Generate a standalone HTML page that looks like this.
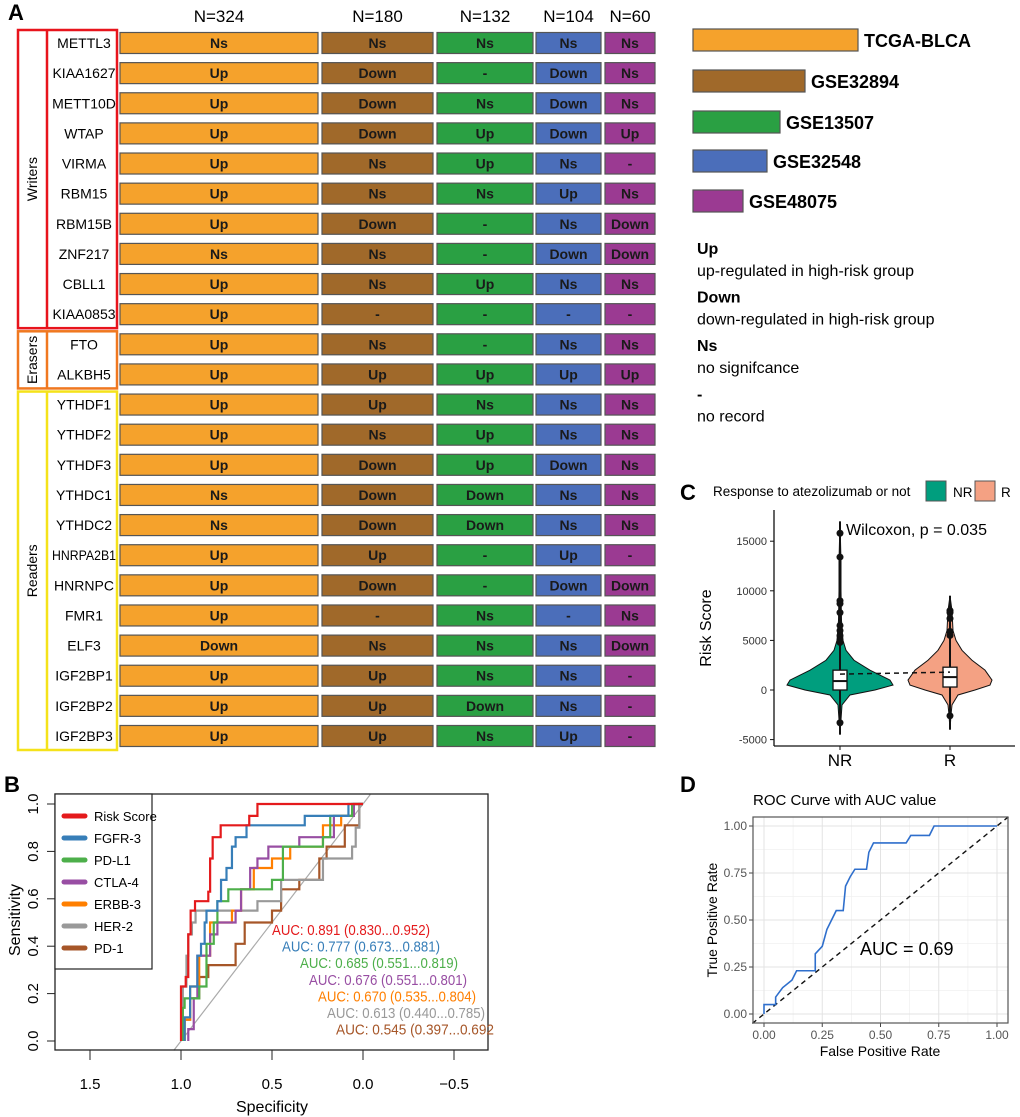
<!DOCTYPE html>
<html><head><meta charset="utf-8"><style>
body{margin:0;background:#fff}
svg{display:block;font-family:"Liberation Sans",sans-serif}
</style></head><body>
<svg id="fig" width="1020" height="1117" viewBox="0 0 1020 1117" xmlns="http://www.w3.org/2000/svg">
<text x="8" y="20" font-size="22" font-weight="bold">A</text>
<text x="4" y="792" font-size="22" font-weight="bold">B</text>
<text x="680" y="500" font-size="22" font-weight="bold">C</text>
<text x="680" y="792" font-size="22" font-weight="bold">D</text>
<g id="pa"></g>
<g id="pb"></g>
<g id="pc"></g>
<g id="pd"></g>
</svg>
<script>
const NS="http://www.w3.org/2000/svg";
function mk(parent,tag,attrs,txt){const e=document.createElementNS(NS,tag);for(const k in attrs)e.setAttribute(k,attrs[k]);if(txt!==undefined)e.textContent=txt;parent.appendChild(e);return e;}

// ---------- Panel A data ----------
const genes=["METTL3","KIAA1627","METT10D","WTAP","VIRMA","RBM15","RBM15B","ZNF217","CBLL1","KIAA0853","FTO","ALKBH5","YTHDF1","YTHDF2","YTHDF3","YTHDC1","YTHDC2","HNRPA2B1","HNRNPC","FMR1","ELF3","IGF2BP1","IGF2BP2","IGF2BP3"];
const datasets=["TCGA-BLCA","GSE32894","GSE13507","GSE32548","GSE48075"];
const sampleN=["N=324","N=180","N=132","N=104","N=60"];
const statusTCGA=["Ns","Up","Up","Up","Up","Up","Up","Ns","Up","Up","Up","Up","Up","Up","Up","Ns","Ns","Up","Up","Up","Down","Up","Up","Up"];
const status32894=["Ns","Down","Down","Down","Ns","Ns","Down","Ns","Ns","-","Ns","Up","Up","Ns","Down","Down","Down","Up","Down","-","Ns","Up","Up","Up"];
const status13507=["Ns","-","Ns","Up","Up","Ns","-","-","Up","-","-","Up","Ns","Up","Up","Down","Down","-","-","Ns","Ns","Ns","Down","Ns"];
const status32548=["Ns","Down","Down","Down","Ns","Up","Ns","Down","Ns","-","Ns","Up","Ns","Ns","Down","Ns","Ns","Up","Down","-","Ns","Ns","Ns","Up"];
const status48075=["Ns","Ns","Ns","Up","-","Ns","Down","Down","Ns","-","Ns","Up","Ns","Ns","Ns","Ns","Ns","-","Down","Ns","Down","-","-","-"];
const groups=["Writers","Erasers","Readers"];
const groupStart=[0,10,12];
const groupEnd=[9,11,23];

const pa=document.getElementById('pa');
const colX=[120,322,437,536,605], colW=[198,111,96,65,50];
const colors=["#F5A22C","#A0692A","#2AA043","#4B6EBA","#9B3A92"];
const allStatus=[statusTCGA,status32894,status13507,status32548,status48075];
const rowY=i=>43+30.13*i;
sampleN.forEach((n,j)=>{const t=mk(pa,'text',{x:colX[j]+colW[j]/2,y:22,'font-size':17,'text-anchor':'middle'},n);

});
genes.forEach((g,i)=>{
  const t=mk(pa,'text',{x:84,y:rowY(i)+5,'font-size':14,'text-anchor':'middle'},g);
  
  
  if(t.getComputedTextLength()>64){t.setAttribute('textLength',64);t.setAttribute('lengthAdjust','spacingAndGlyphs');}
  allStatus.forEach((arr,j)=>{
    const r=mk(pa,'rect',{x:colX[j],y:rowY(i)-10.5,width:colW[j],height:21,fill:colors[j],stroke:'#555','stroke-width':1.2});
    
    
    const s=mk(pa,'text',{x:colX[j]+colW[j]/2,y:rowY(i)+5,'font-size':14,'font-weight':'bold','text-anchor':'middle',fill:'#1a1a1a'},arr[i]);
    
    
  });
});
const gcol=["#E8141C","#F07820","#F5E21A"];
groups.forEach((g,k)=>{
  const y0=rowY(groupStart[k])-13, y1=rowY(groupEnd[k])+14;
  const r=mk(pa,'rect',{x:18,y:y0,width:99,height:y1-y0,fill:'none',stroke:gcol[k],'stroke-width':2.5});
  
  
  mk(pa,'line',{x1:47,x2:47,y1:y0,y2:y1,stroke:gcol[k],'stroke-width':2.5});
  const cy=(y0+y1)/2;
  const t=mk(pa,'text',{x:37,y:cy,'font-size':14,'text-anchor':'middle',transform:`rotate(-90 37 ${cy})`},g);
  
  
});
const legW=[165,112,87,74,50], legY=[29,70,111,150,190];
datasets.forEach((d,j)=>{
  const r=mk(pa,'rect',{x:693,y:legY[j],width:legW[j],height:22,fill:colors[j],stroke:'#555','stroke-width':1.2});
  
  
  const t=mk(pa,'text',{x:693+legW[j]+6,y:legY[j]+18,'font-size':18,'font-weight':'bold'},d);
  
  
});
const keyTerms=["Up","Down","Ns","-"];
const keyDesc=["up-regulated in high-risk group","down-regulated in high-risk group","no signifcance","no record"];
keyTerms.forEach((k,i)=>{
  const t=mk(pa,'text',{x:697,y:254+i*48.5,'font-size':16,'font-weight':'bold'},k);
  
  
  const d=mk(pa,'text',{x:697,y:276+i*48.5,'font-size':16},keyDesc[i]);
  
  
});

// ---------- Panel B data ----------
const rocNames=["Risk Score","FGFR-3","PD-L1","CTLA-4","ERBB-3","HER-2","PD-1"];
const rocColors=["#E41A1C","#377EB8","#4DAF4A","#984EA3","#FF7F00","#999999","#A65628"];
const specRisk=[1.0,0.974,0.96,0.947,0.923,0.85,0.84,0.826,0.782,0.625,0.58];
const sensRisk=[0.23,0.27,0.45,0.55,0.59,0.63,0.77,0.86,0.91,0.95,1.0];
const specFGFR=[0.98,0.95,0.91,0.89,0.87,0.86,0.8,0.78,0.75,0.72,0.7,0.64,0.32,0.08];
const sensFGFR=[0.1,0.23,0.36,0.41,0.5,0.55,0.59,0.68,0.73,0.82,0.86,0.91,0.95,1.0];
const specPDL1=[0.99,0.98,0.9,0.86,0.82,0.8,0.74,0.5,0.44,0.22,0.18,0.06];
const sensPDL1=[0.14,0.18,0.23,0.41,0.5,0.59,0.64,0.68,0.82,0.86,0.95,1.0];
const specCTLA=[0.96,0.93,0.91,0.84,0.8,0.7,0.67,0.62,0.58,0.52,0.35,0.16,0.05];
const sensCTLA=[0.05,0.18,0.36,0.45,0.5,0.55,0.64,0.73,0.77,0.82,0.86,0.95,1.0];
const specERBB=[0.98,0.95,0.9,0.84,0.72,0.67,0.6,0.5,0.4,0.22,0.12,0.05];
const sensERBB=[0.09,0.23,0.36,0.5,0.55,0.64,0.73,0.77,0.82,0.91,0.95,1.0];
const specHER2=[0.99,0.97,0.96,0.94,0.92,0.58,0.45,0.22,0.06,0.04,0.02];
const sensHER2=[0.23,0.36,0.45,0.5,0.55,0.59,0.68,0.77,0.82,0.9,1.0];
const specPD1=[0.98,0.95,0.9,0.85,0.7,0.65,0.5,0.45,0.35,0.24,0.2,0.1,0.02];
const sensPD1=[0.09,0.18,0.27,0.32,0.41,0.5,0.55,0.64,0.68,0.77,0.82,0.91,1.0];
const aucLabels=["AUC: 0.891 (0.830...0.952)","AUC: 0.777 (0.673...0.881)","AUC: 0.685 (0.551...0.819)","AUC: 0.676 (0.551...0.801)","AUC: 0.670 (0.535...0.804)","AUC: 0.613 (0.440...0.785)","AUC: 0.545 (0.397...0.692"];
const bXTicks=[1.5,1.0,0.5,0.0,-0.5];
const bYTicks=[0,0.2,0.4,0.6,0.8,1.0];

const pb=document.getElementById('pb');
const bx=s=>363-182*s, by=v=>1041-237*v;
mk(pb,'line',{x1:bx(1.04),y1:by(-0.04),x2:bx(-0.04),y2:by(1.04),stroke:'#aaa','stroke-width':1.2});
const specs=[specRisk,specFGFR,specPDL1,specCTLA,specERBB,specHER2,specPD1];
const senss=[sensRisk,sensFGFR,sensPDL1,sensCTLA,sensERBB,sensHER2,sensPD1];
for(let k=6;k>=0;k--){
  const sp=specs[k],se=senss[k];
  let d=`M${bx(sp[0])},${by(0)}`;
  for(let i=0;i<sp.length;i++){ if(i>0) d+=` H${bx(sp[i])}`; d+=` V${by(se[i])}`; }
  d+=` H${bx(0)}`;
  const p=mk(pb,'path',{d:d,fill:'none',stroke:rocColors[k],'stroke-width':2.2});
  
  
}
const bframe=mk(pb,'rect',{x:55,y:794,width:433,height:256,fill:'none',stroke:'#222','stroke-width':1.3});


bXTicks.forEach(t=>{mk(pb,'line',{x1:bx(t),x2:bx(t),y1:1050,y2:1060,stroke:'#222'});
  const l=mk(pb,'text',{x:bx(t),y:1089,'font-size':15,'text-anchor':'middle'},t.toFixed(1).replace('-','\u2212'));
  
  });
bYTicks.forEach(t=>{mk(pb,'line',{x1:47,x2:55,y1:by(t),y2:by(t),stroke:'#222'});
  const l=mk(pb,'text',{x:38,y:by(t),'font-size':15,'text-anchor':'middle',transform:`rotate(-90 38 ${by(t)})`},t.toFixed(1));
  
  });
const bxt=mk(pb,'text',{x:272,y:1112,'font-size':16,'text-anchor':'middle'},'Specificity');


const byt=mk(pb,'text',{x:20,y:920,'font-size':16,'text-anchor':'middle',transform:'rotate(-90 20 920)'},'Sensitivity');


const lb=mk(pb,'rect',{x:55,y:794,width:97,height:175,fill:'#fff',stroke:'#222','stroke-width':1.2});


rocNames.forEach((n,k)=>{
  const y=816+k*22;
  mk(pb,'line',{x1:64,x2:85,y1:y,y2:y,stroke:rocColors[k],'stroke-width':5,'stroke-linecap':'round'});
  const t=mk(pb,'text',{x:94,y:y+5,'font-size':13},n);
  
  
});
const aucX=[272,282,300,309,318,327,336];
aucLabels.forEach((a,k)=>{
  const t=mk(pb,'text',{x:aucX[k],y:935+k*16.6,'font-size':15,fill:rocColors[k],textLength:158,lengthAdjust:'spacingAndGlyphs'},a);
  
  
});

// ---------- Panel C data ----------
const groupsC=["NR","R"];
const nrVals=[-4500,-3000,-1500,-500,0,500,1000,2000,3000,4000,5000,7000,10000,13000,17000];
const nrDens=[0,1,2,10,35,53,50,30,14,6,3,1.5,1,1,0];
const rVals=[-4000,-2500,-1500,-500,0,500,1000,2000,3000,4000,5000,6000,8000,9500];
const rDens=[0,1,2,8,25,40,42,35,22,12,6,3,2,0];
const boxQ1=[0,300];
const boxMed=[900,1300];
const boxQ3=[2000,2300];
const groupMean=[1600,1800];
const nrOutliers=[15800,13400,9000,8700,7800,6500,6000,5500,5000,4800,-3300];
const rOutliers=[8000,7800,7200,5900,5500,-2600];
const cYTicks=[-5000,0,5000,10000,15000];

const pc=document.getElementById('pc');
const cy=v=>690-v*49.6/5000;
const cx=[840,950];
const ct=mk(pc,'text',{x:713,y:496,'font-size':13.5},'Response to atezolizumab or not');


const cfill=["#009E7E","#F4A183"];
[[926,953],[975,1001]].forEach((p,k)=>{
  const r=mk(pc,'rect',{x:p[0],y:481,width:20,height:20,fill:cfill[k],stroke:'#555'});
  
  
  const t=mk(pc,'text',{x:p[1],y:497,'font-size':13.5},groupsC[k]);
  
  
});
function violin(vals,dens,c,fill,name){
  let right=vals.map((v,i)=>`${c+dens[i]},${cy(v)}`);
  let left=vals.map((v,i)=>`${c-dens[i]},${cy(v)}`).reverse();
  const p=mk(pc,'polygon',{points:right.concat(left).join(' '),fill:fill,stroke:'#111','stroke-width':1});
  
  
  mk(pc,'line',{x1:c,x2:c,y1:cy(vals[0]),y2:cy(vals[vals.length-1]),stroke:'#111','stroke-width':2});
}
violin(nrVals,nrDens,cx[0],cfill[0],'violin-nr');
violin(rVals,rDens,cx[1],cfill[1],'violin-r');
[nrOutliers,rOutliers].forEach((arr,k)=>arr.forEach(v=>{
  const c=mk(pc,'circle',{cx:cx[k],cy:cy(v),r:3.5,fill:'#111'});
  
  
}));
groupsC.forEach((g,k)=>{
  const r=mk(pc,'rect',{x:cx[k]-7,y:cy(boxQ3[k]),width:14,height:cy(boxQ1[k])-cy(boxQ3[k]),fill:'#fff',stroke:'#111','stroke-width':1.3});
  
  
  mk(pc,'line',{x1:cx[k]-7,x2:cx[k]+7,y1:cy(boxMed[k]),y2:cy(boxMed[k]),stroke:'#111','stroke-width':2});
});
const ml=mk(pc,'line',{x1:cx[0],x2:cx[1],y1:cy(groupMean[0]),y2:cy(groupMean[1]),stroke:'#111','stroke-width':1.5,'stroke-dasharray':'5,4'});


mk(pc,'line',{x1:774,x2:774,y1:510,y2:746,stroke:'#111','stroke-width':1.3});
mk(pc,'line',{x1:774,x2:1015,y1:746,y2:746,stroke:'#111','stroke-width':1.3});
cYTicks.forEach(t=>{mk(pc,'line',{x1:770,x2:774,y1:cy(t),y2:cy(t),stroke:'#111'});
  const l=mk(pc,'text',{x:767,y:cy(t)+4,'font-size':11,'text-anchor':'end',fill:'#333'},t);
  
  });
groupsC.forEach((g,k)=>{mk(pc,'line',{x1:cx[k],x2:cx[k],y1:746,y2:750,stroke:'#111'});
  const l=mk(pc,'text',{x:cx[k],y:766,'font-size':17,'text-anchor':'middle'},g);
  
  });
const cyt=mk(pc,'text',{x:711,y:628,'font-size':16,'text-anchor':'middle',transform:'rotate(-90 711 628)'},'Risk Score');


const wt=mk(pc,'text',{x:846,y:535,'font-size':16},'Wilcoxon, p = 0.035');



// ---------- Panel D data ----------
const fpr=[0,0,0.05,0.05,0.08,0.12,0.14,0.22,0.22,0.25,0.27,0.29,0.31,0.34,0.35,0.37,0.39,0.44,0.45,0.47,0.61,0.63,0.71,0.73,1.0];
const tpr=[0,0.05,0.05,0.09,0.14,0.18,0.23,0.23,0.32,0.36,0.45,0.5,0.55,0.55,0.68,0.73,0.77,0.77,0.86,0.91,0.91,0.95,0.95,1.0,1.0];
const dTicks=[0,0.25,0.5,0.75,1.0];
const pd=document.getElementById('pd');
const dx=v=>764+233*v, dy=v=>1014-188*v;
const dbg=mk(pd,'rect',{x:753,y:817,width:255,height:206,fill:'#fff'});


[0.125,0.375,0.625,0.875].forEach(t=>{mk(pd,'line',{x1:dx(t),x2:dx(t),y1:817,y2:1023,stroke:'#f0f0f0','stroke-width':0.8});
  mk(pd,'line',{x1:753,x2:1008,y1:dy(t),y2:dy(t),stroke:'#f0f0f0','stroke-width':0.8});});
dTicks.forEach(t=>{mk(pd,'line',{x1:dx(t),x2:dx(t),y1:817,y2:1023,stroke:'#e3e3e3','stroke-width':1});
  mk(pd,'line',{x1:753,x2:1008,y1:dy(t),y2:dy(t),stroke:'#e3e3e3','stroke-width':1});
  mk(pd,'line',{x1:dx(t),x2:dx(t),y1:1023,y2:1027,stroke:'#444'});
  mk(pd,'line',{x1:749,x2:753,y1:dy(t),y2:dy(t),stroke:'#444'});
  const a=mk(pd,'text',{x:dx(t),y:1039,'font-size':12,'text-anchor':'middle',fill:'#555'},t.toFixed(2));
  
  
  const b=mk(pd,'text',{x:747,y:dy(t)+4,'font-size':12,'text-anchor':'end',fill:'#555'},t.toFixed(2));
  
  });
const dg=mk(pd,'line',{x1:dx(-0.05),y1:dy(-0.05),x2:dx(1.05),y2:dy(1.05),stroke:'#111','stroke-width':1.4,'stroke-dasharray':'5,4'});


const rc=mk(pd,'polyline',{points:fpr.map((f,i)=>`${dx(f)},${dy(tpr[i])}`).join(' '),fill:'none',stroke:'#2f6fcc','stroke-width':1.6});


mk(pd,'rect',{x:753,y:817,width:255,height:206,fill:'none',stroke:'#555','stroke-width':1.2});
const dt=mk(pd,'text',{x:753,y:805,'font-size':15},'ROC Curve with AUC value');


const dxt=mk(pd,'text',{x:880,y:1056,'font-size':14,'text-anchor':'middle'},'False Positive Rate');


const dyt=mk(pd,'text',{x:717,y:920,'font-size':14,'text-anchor':'middle',transform:'rotate(-90 717 920)'},'True Positive Rate');


const da=mk(pd,'text',{x:860,y:955,'font-size':18},'AUC = 0.69');


</script>
</body></html>
